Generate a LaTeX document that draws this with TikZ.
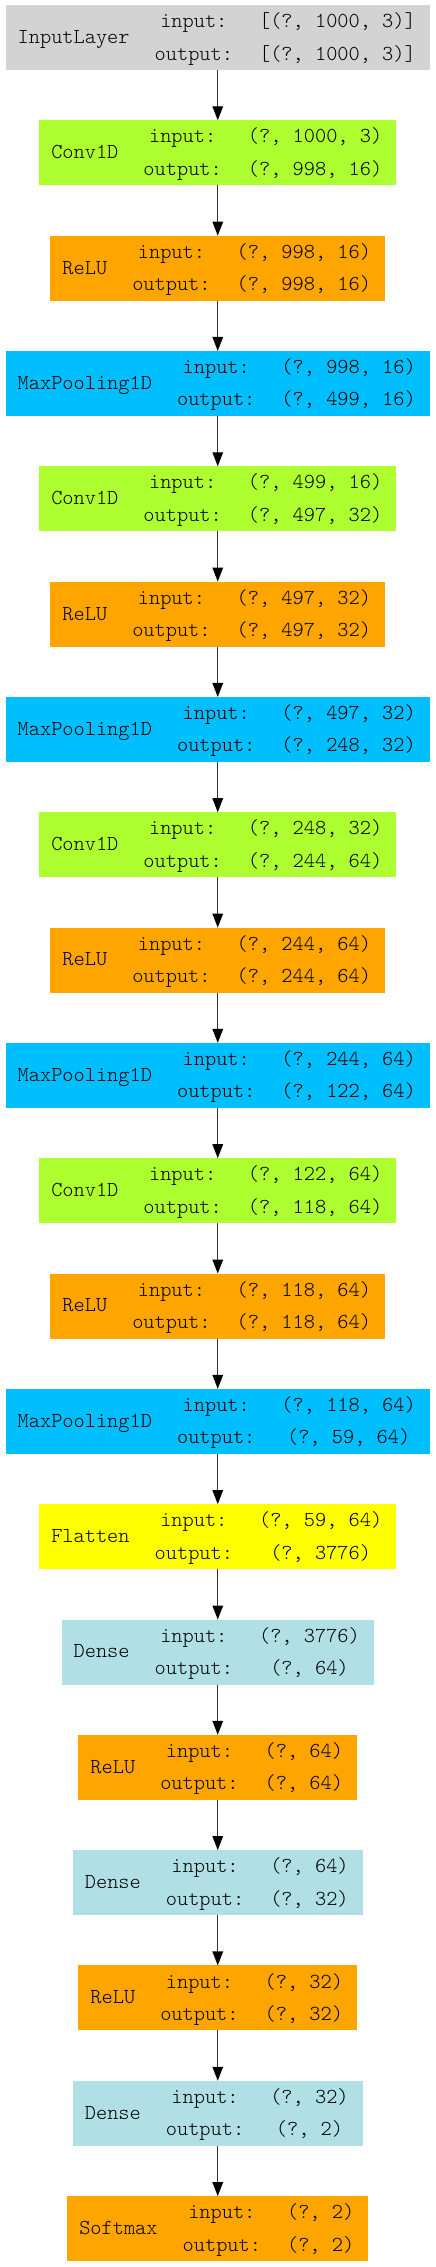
\documentclass[tikz,border=0pt]{standalone}
\usepackage{fontspec}
\usetikzlibrary{arrows.meta}
\newfontfamily\monofnt{Latin Modern Mono Light}
\definecolor{cInput}{HTML}{D3D3D3}
\definecolor{cConv}{HTML}{ADFF2F}
\definecolor{cRelu}{HTML}{FFA500}
\definecolor{cPool}{HTML}{00BFFF}
\definecolor{cFlat}{HTML}{FFFF00}
\definecolor{cDense}{HTML}{B0E0E6}
\definecolor{cLine}{HTML}{333333}
\tikzset{
  layerbox/.style={draw=none, inner sep=0pt, outer sep=0pt},
  txt/.style={inner sep=0pt, outer sep=0pt, anchor=base, text=black,
    font=\monofnt\fontsize{21.33}{22}\selectfont},
  conn/.style={draw=cLine, line width=1.3pt,
    -{Triangle[length=14pt,width=10.5pt,color=black]}},
}
% #1 name, #2 index, #3 colour, #4 label, #5 label chars, #6 input, #7 output, #8 value chars
\newcommand{\klayer}[8]{%
  \pgfmathsetmacro\tn{11.2*#5}%
  \pgfmathsetmacro\tv{11.2*#8}%
  \pgfmathsetmacro\W{\tn+78.4+\tv+77}%
  \pgfmathsetmacro\xa{217.75-\W/2}%
  \pgfmathsetmacro\xb{217.75+\W/2}%
  \pgfmathsetmacro\ya{5+#2*115.32}%
  \node[layerbox, fill=#3, minimum width=\W pt, minimum height=65pt] (#1) at (217.75,\ya+32.5) {};
  \node[txt] (#1-name) at (\xa+12+\tn/2,\ya+38.4) {#4};
  \node[txt] (#1-ik) at (\xa+\tn+37+39.2,\ya+22.6) {input:};
  \node[txt] (#1-ok) at (\xa+\tn+37+39.2,\ya+55) {output:};
  \node[txt] (#1-iv) at (\xb-14-\tv/2,\ya+22.6) {#6};
  \node[txt] (#1-ov) at (\xb-14-\tv/2,\ya+55) {#7};
}
\begin{document}
\begin{tikzpicture}[x=1pt,y=-1pt]
\fill[white] (0,0) rectangle (436,2267);
\useasboundingbox (0,0) rectangle (436,2267);
\klayer{l0}{0}{cInput}{InputLayer}{10}{[(?, 1000, 3)]}{[(?, 1000, 3)]}{14}
\klayer{l1}{1}{cConv}{Conv1D}{6}{(?, 1000, 3)}{(?, 998, 16)}{12}
\klayer{l2}{2}{cRelu}{ReLU}{4}{(?, 998, 16)}{(?, 998, 16)}{12}
\klayer{l3}{3}{cPool}{MaxPooling1D}{12}{(?, 998, 16)}{(?, 499, 16)}{12}
\klayer{l4}{4}{cConv}{Conv1D}{6}{(?, 499, 16)}{(?, 497, 32)}{12}
\klayer{l5}{5}{cRelu}{ReLU}{4}{(?, 497, 32)}{(?, 497, 32)}{12}
\klayer{l6}{6}{cPool}{MaxPooling1D}{12}{(?, 497, 32)}{(?, 248, 32)}{12}
\klayer{l7}{7}{cConv}{Conv1D}{6}{(?, 248, 32)}{(?, 244, 64)}{12}
\klayer{l8}{8}{cRelu}{ReLU}{4}{(?, 244, 64)}{(?, 244, 64)}{12}
\klayer{l9}{9}{cPool}{MaxPooling1D}{12}{(?, 244, 64)}{(?, 122, 64)}{12}
\klayer{l10}{10}{cConv}{Conv1D}{6}{(?, 122, 64)}{(?, 118, 64)}{12}
\klayer{l11}{11}{cRelu}{ReLU}{4}{(?, 118, 64)}{(?, 118, 64)}{12}
\klayer{l12}{12}{cPool}{MaxPooling1D}{12}{(?, 118, 64)}{(?, 59, 64)}{12}
\klayer{l13}{13}{cFlat}{Flatten}{7}{(?, 59, 64)}{(?, 3776)}{11}
\klayer{l14}{14}{cDense}{Dense}{5}{(?, 3776)}{(?, 64)}{9}
\klayer{l15}{15}{cRelu}{ReLU}{4}{(?, 64)}{(?, 64)}{7}
\klayer{l16}{16}{cDense}{Dense}{5}{(?, 64)}{(?, 32)}{7}
\klayer{l17}{17}{cRelu}{ReLU}{4}{(?, 32)}{(?, 32)}{7}
\klayer{l18}{18}{cDense}{Dense}{5}{(?, 32)}{(?, 2)}{7}
\klayer{l19}{19}{cRelu}{Softmax}{7}{(?, 2)}{(?, 2)}{6}
\foreach \a/\b in {l0/l1,l1/l2,l2/l3,l3/l4,l4/l5,l5/l6,l6/l7,l7/l8,l8/l9,l9/l10,l10/l11,l11/l12,l12/l13,l13/l14,l14/l15,l15/l16,l16/l17,l17/l18,l18/l19}
  \draw[conn] (\a.south) -- (\b.north);
\end{tikzpicture}
\end{document}
